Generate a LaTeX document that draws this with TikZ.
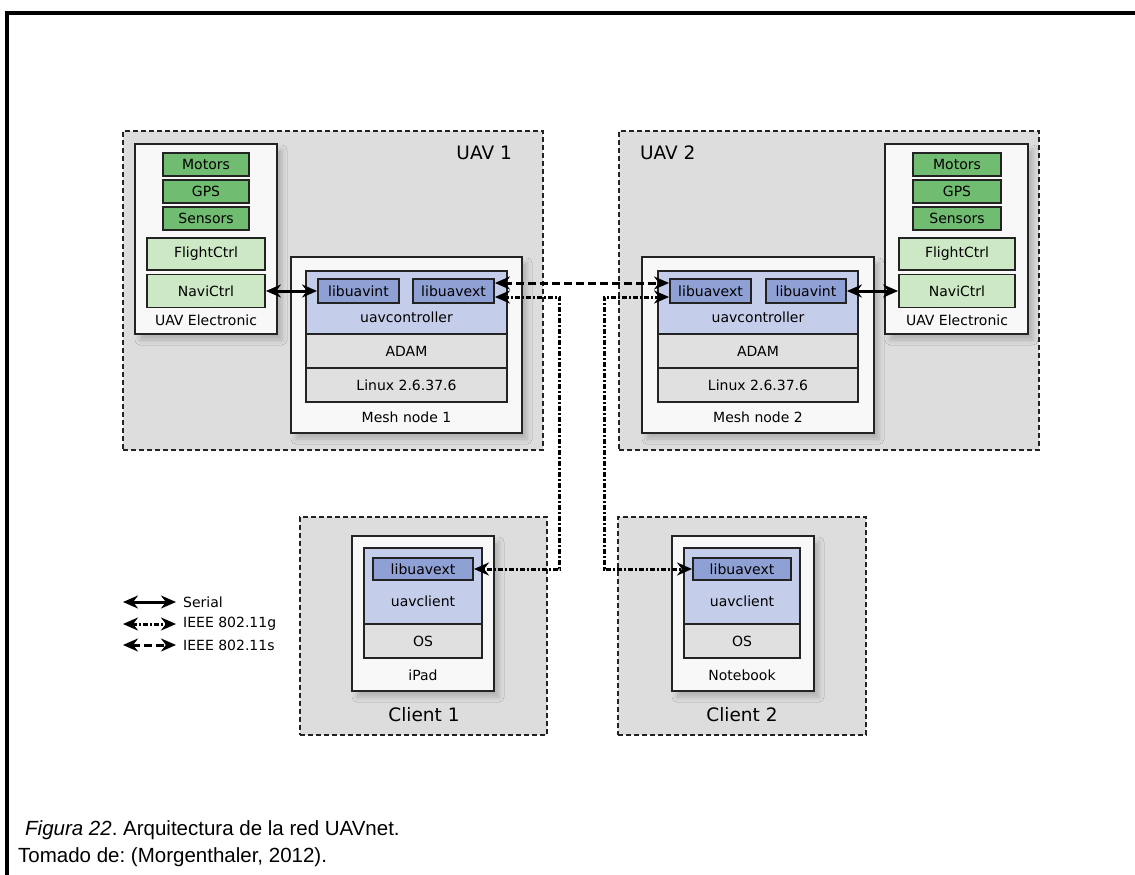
\documentclass[tikz,border=0pt]{standalone}
\usepackage{fontspec}
\setmainfont{DejaVu Sans}
\newfontfamily\capfont{Liberation Sans}
\usetikzlibrary{arrows.meta,calc,shadows.blur}
\definecolor{grpgray}{RGB}{221,221,221}
\definecolor{boxwhite}{RGB}{248,248,248}
\definecolor{dkgreen}{RGB}{112,188,112}
\definecolor{ltgreen}{RGB}{204,232,196}
\definecolor{panelblue}{RGB}{196,205,234}
\definecolor{libblue}{RGB}{143,160,212}
\definecolor{rowgray}{RGB}{224,224,224}
\definecolor{edge}{RGB}{35,35,35}
\begin{document}
\frenchspacing
\begin{tikzpicture}[x=1pt,y=-1pt,
  font=\fontsize{14}{15}\selectfont,
  grp/.style={draw=edge, fill=grpgray, line width=1.6pt, dash pattern=on 5pt off 3pt, inner sep=0pt},
  wbox/.style={draw=edge, fill=boxwhite, line width=1.9pt, inner sep=0pt,
    blur shadow={shadow xshift=5pt, shadow yshift=-6pt, shadow blur radius=5pt, shadow opacity=20}},
  gdark/.style={draw=edge, fill=dkgreen, line width=1.9pt, inner sep=0pt},
  glight/.style={draw=edge, fill=ltgreen, line width=1.9pt, inner sep=0pt},
  panel/.style={draw=edge, fill=panelblue, line width=1.9pt, inner sep=0pt},
  libbox/.style={draw=edge, fill=libblue, line width=1.9pt, inner sep=0pt},
  row/.style={draw=edge, fill=rowgray, line width=1.9pt, inner sep=0pt},
  lbl/.style={inner sep=0pt},
  biglbl/.style={inner sep=0pt, font=\fontsize{18.5}{20}\selectfont},
  serial/.style={line width=3pt, {Stealth[length=15pt,width=13pt]}-{Stealth[length=15pt,width=13pt]}},
  slink/.style={line width=3pt, dash pattern=on 8pt off 4pt, {Stealth[length=15pt,width=13pt]}-{Stealth[length=15pt,width=13pt]}},
  glink/.style={line width=3pt, dash pattern=on 5pt off 2pt on 2pt off 2pt, {Stealth[length=15pt,width=13pt]}-{Stealth[length=15pt,width=13pt]}},
  frameline/.style={line width=3.5pt, black},
  caption/.style={inner sep=0pt, anchor=west, font=\capfont\fontsize{20.5}{22}\selectfont}
]
\useasboundingbox (0,0) rectangle (1135,875);
\fill[white] (0,0) rectangle (1135,875);

% outer frame (top and left)
\coordinate (fTL) at (7,13);
\coordinate (fTR) at (1135,13);
\coordinate (fBL) at (7,875);
\draw[frameline] (fTR) -- (fTL) -- (fBL);

% groups
\node[grp, minimum width=420, minimum height=319] (uav1) at (333,290.5) {};
\node[grp, minimum width=420, minimum height=319] (uav2) at (829,290.5) {};
\node[grp, minimum width=247, minimum height=218] (cl1) at (423.5,626) {};
\node[grp, minimum width=248, minimum height=218] (cl2) at (742,626) {};
\node[biglbl, anchor=east] (uav1l) at (512,153) {UAV 1};
\node[biglbl, anchor=west] (uav2l) at (640,153) {UAV 2};
\node[biglbl] (cl1l) at (424,715) {Client 1};
\node[biglbl] (cl2l) at (742,715) {Client 2};

% UAV Electronic 1
\node[wbox, minimum width=142, minimum height=190] (el1) at (206,239) {};
\node[gdark, minimum width=86, minimum height=23] (mot1) at (206,164.5) {Motors};
\node[gdark, minimum width=86, minimum height=23] (gps1) at (206,191.5) {GPS};
\node[gdark, minimum width=86, minimum height=23] (sen1) at (206,218.5) {Sensors};
\node[glight, minimum width=118, minimum height=32] (fc1) at (206,254) {FlightCtrl};
\node[glight, minimum width=118, minimum height=33] (nc1) at (206,291) {NaviCtrl};
\node[lbl] (el1l) at (206,320) {UAV Electronic};

% UAV Electronic 2
\node[wbox, minimum width=143, minimum height=190] (el2) at (956.5,239) {};
\node[gdark, minimum width=88, minimum height=23] (mot2) at (957,164.5) {Motors};
\node[gdark, minimum width=88, minimum height=23] (gps2) at (957,191.5) {GPS};
\node[gdark, minimum width=88, minimum height=23] (sen2) at (957,218.5) {Sensors};
\node[glight, minimum width=116, minimum height=32] (fc2) at (957,254) {FlightCtrl};
\node[glight, minimum width=116, minimum height=33] (nc2) at (957,291) {NaviCtrl};
\node[lbl] (el2l) at (957,320) {UAV Electronic};

% Mesh node 1
\node[wbox, minimum width=231, minimum height=176] (mn1) at (406.5,345) {};
\node[panel, minimum width=201, minimum height=63] (p1) at (406.5,302.5) {};
\node[row, minimum width=201, minimum height=34] (adam1) at (406.5,351) {ADAM};
\node[row, minimum width=201, minimum height=34] (lin1) at (406.5,385) {Linux 2.6.37.6};
\node[libbox, minimum width=81, minimum height=24] (int1) at (358.5,291) {libuavint};
\node[libbox, minimum width=81, minimum height=24] (ext1) at (453.5,291) {libuavext};
\node[lbl] (uc1) at (406.5,317) {uavcontroller};
\node[lbl] (mn1l) at (406.5,417) {Mesh node 1};

% Mesh node 2
\node[wbox, minimum width=232, minimum height=176] (mn2) at (758,345) {};
\node[panel, minimum width=200, minimum height=63] (p2) at (758,302.5) {};
\node[row, minimum width=200, minimum height=34] (adam2) at (758,351) {ADAM};
\node[row, minimum width=200, minimum height=34] (lin2) at (758,385) {Linux 2.6.37.6};
\node[libbox, minimum width=81, minimum height=24] (ext2) at (710.5,291) {libuavext};
\node[libbox, minimum width=80, minimum height=24] (int2) at (806,291) {libuavint};
\node[lbl] (uc2) at (758,317) {uavcontroller};
\node[lbl] (mn2l) at (758,417) {Mesh node 2};

% Client 1 device
\node[wbox, minimum width=142, minimum height=155] (ip) at (423,613.5) {};
\node[panel, minimum width=118, minimum height=76] (cp1) at (423,586) {};
\node[row, minimum width=118, minimum height=34] (os1) at (423,641) {OS};
\node[libbox, minimum width=100, minimum height=22] (cext1) at (423,569) {libuavext};
\node[lbl] (ucl1) at (423,601) {uavclient};
\node[lbl] (ipl) at (423,675) {iPad};

% Client 2 device
\node[wbox, minimum width=142, minimum height=155] (nb) at (743,613.5) {};
\node[panel, minimum width=116, minimum height=76] (cp2) at (742,586) {};
\node[row, minimum width=116, minimum height=34] (os2) at (742,641) {OS};
\node[libbox, minimum width=98, minimum height=22] (cext2) at (742,569) {libuavext};
\node[lbl] (ucl2) at (742,601) {uavclient};
\node[lbl] (nbl) at (742,675) {Notebook};

% connectors
\draw[serial] (nc1.east) -- (int1.west);
\draw[serial] (int2.east) -- (nc2.west);
\draw[slink] ([yshift=8pt]ext1.east) -- ([yshift=8pt]ext2.west);
\draw[glink] ([yshift=-6pt]ext1.east) -- ++(65,0) |- (cext1.east);
\draw[glink] ([yshift=-6pt]ext2.west) -- ++(-65,0) |- (cext2.west);

% legend
\coordinate (lsA) at (123,602); \coordinate (lsB) at (176,602);
\coordinate (lgA) at (123,624); \coordinate (lgB) at (176,624);
\coordinate (lmA) at (123,645); \coordinate (lmB) at (176,645);
\draw[serial] (lsA) -- (lsB);
\draw[glink] (lgA) -- (lgB);
\draw[slink] (lmA) -- (lmB);
\node[lbl, anchor=west] (lsT) at (183,602) {Serial};
\node[lbl, anchor=west] (lgT) at (183,624) {IEEE 802.11g};
\node[lbl, anchor=west] (lmT) at (183,645) {IEEE 802.11s};

% caption
\node[caption] (cap1) at (25,830) {\textit{Figura 22}. Arquitectura de la red UAVnet.};
\node[caption] (cap2) at (18,857) {Tomado de: (Morgenthaler, 2012).};
\end{tikzpicture}
\end{document}
